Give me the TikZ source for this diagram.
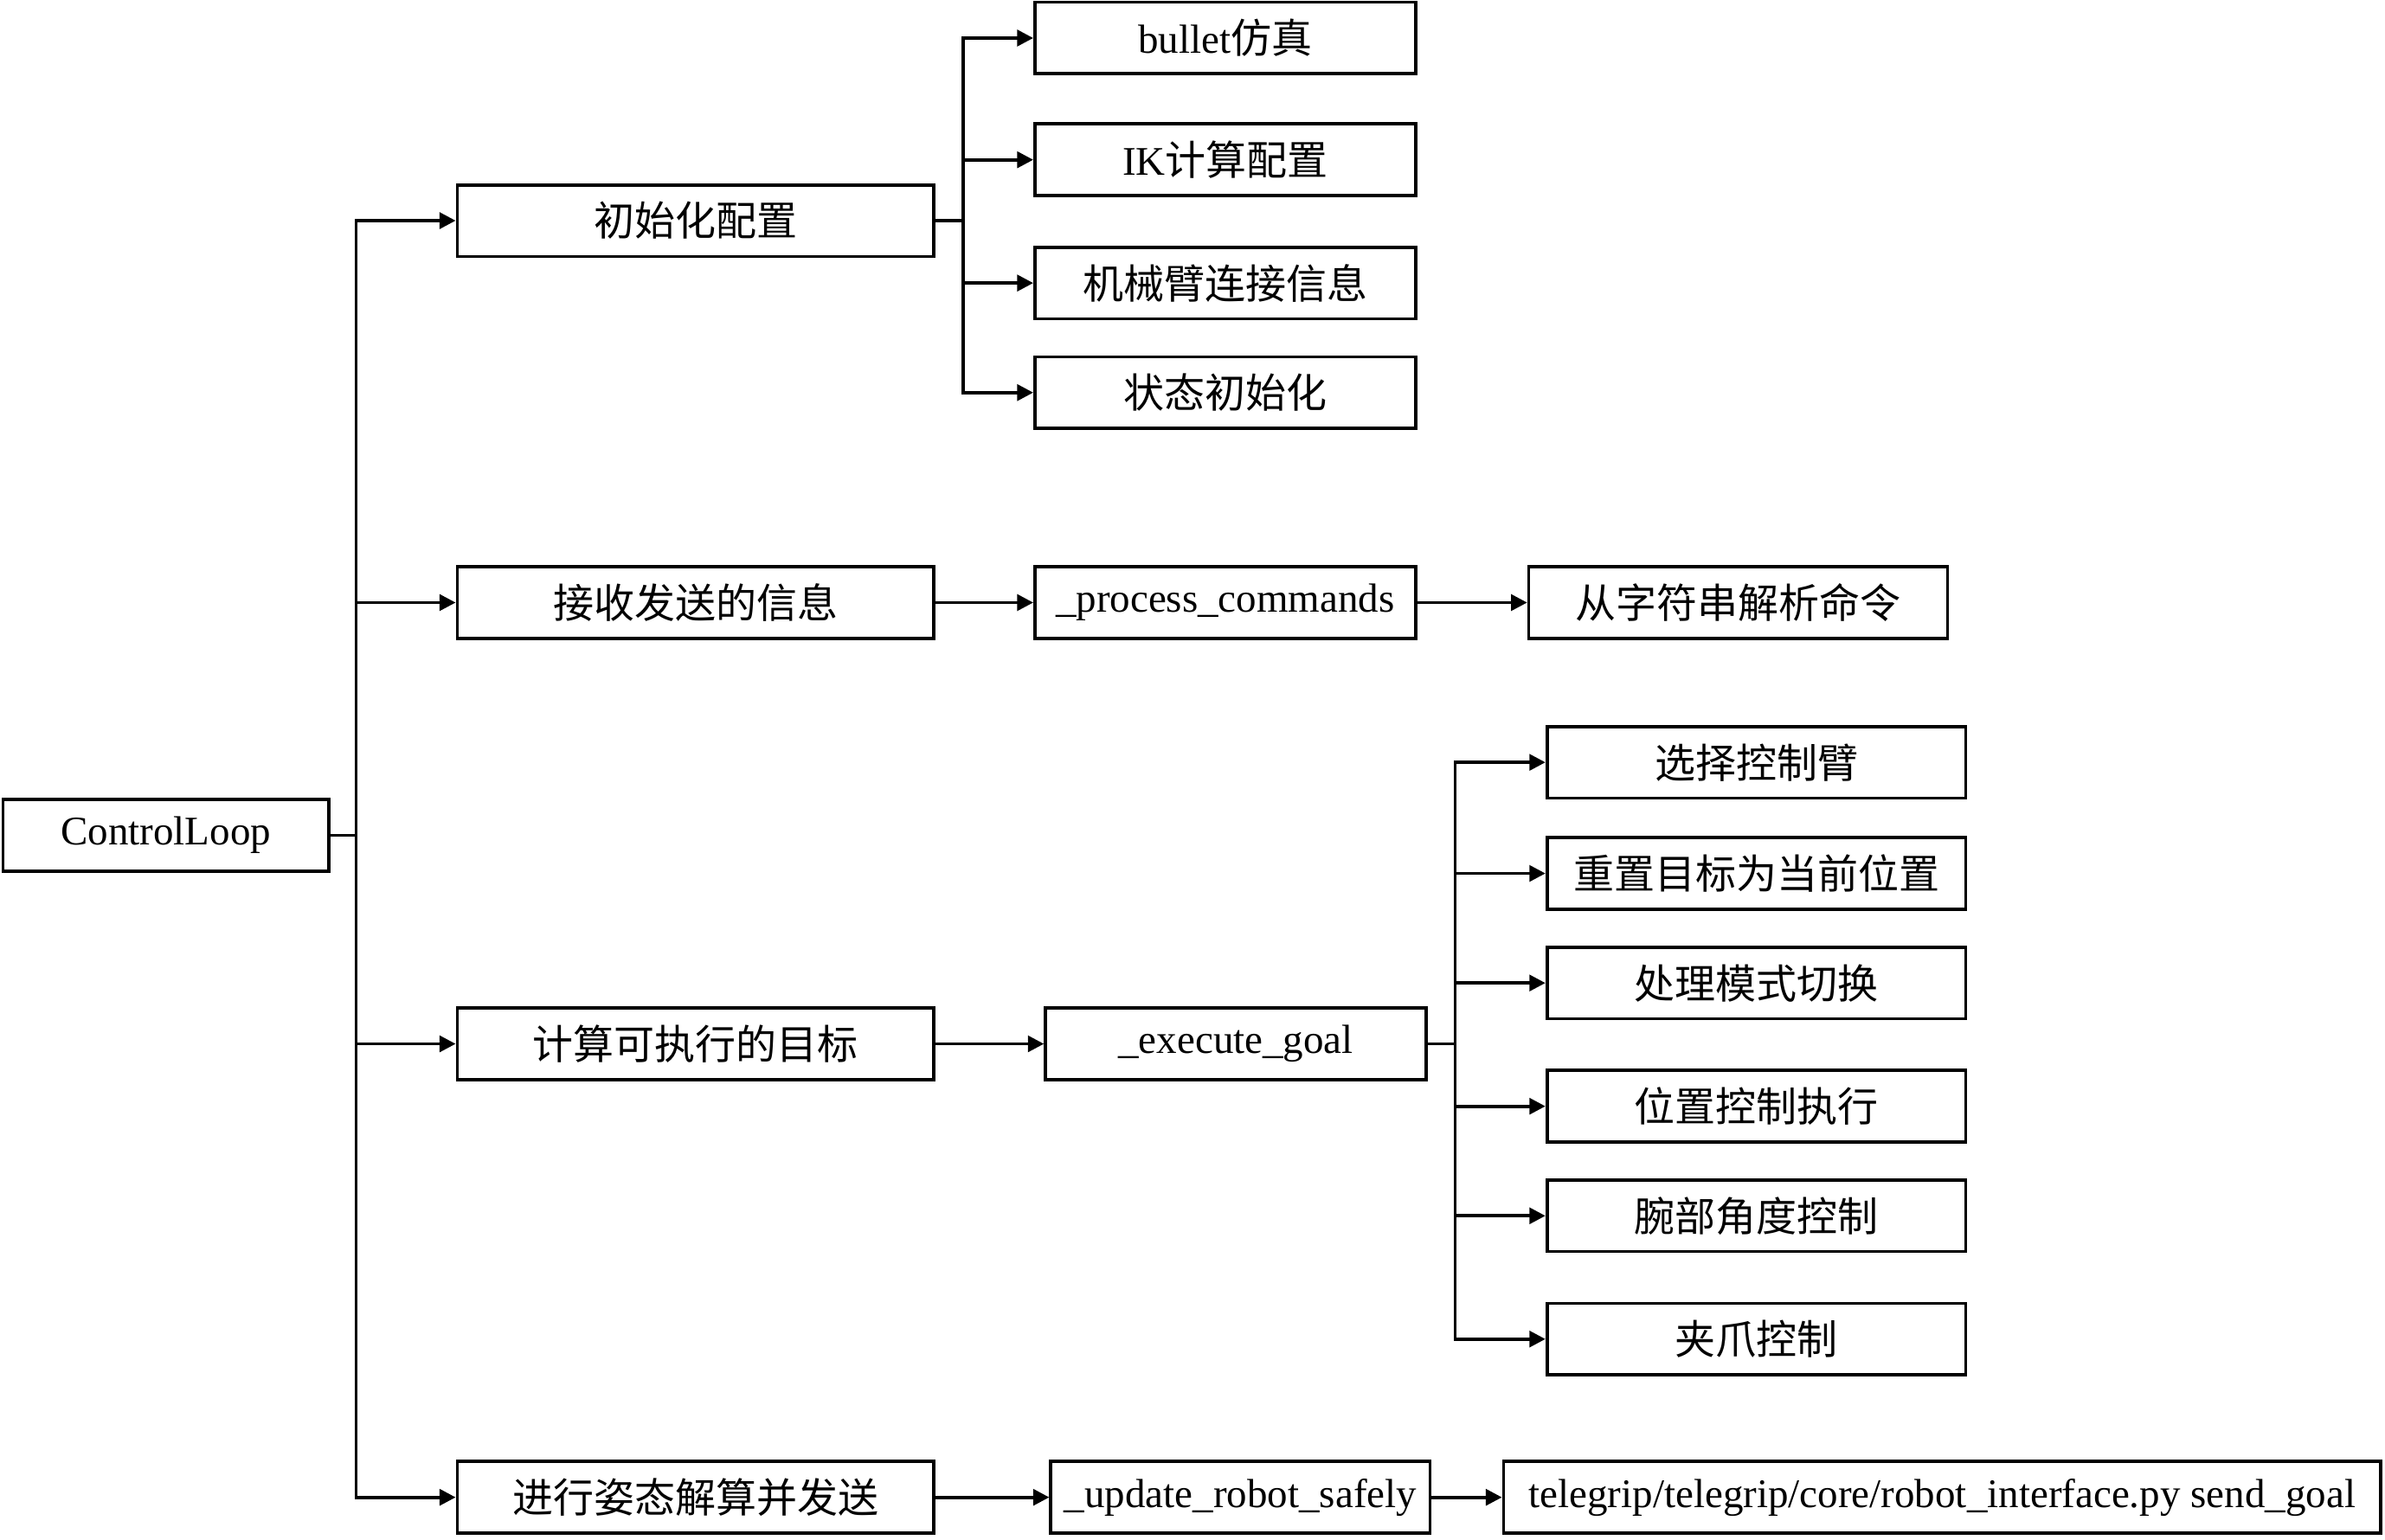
\documentclass[tikz,border=0pt]{standalone}
\usepackage{fontspec}
\setmainfont{Liberation Serif}
\newfontfamily\cjk{Noto Sans CJK SC}
\usetikzlibrary{arrows.meta}
\tikzset{
 box/.style={draw, line width=0.6pt, minimum height=0.47cm, inner sep=0pt, font=\fontsize{7.6pt}{8pt}\selectfont},
 link/.style={line width=0.6pt, -{Triangle[length=3pt,width=3pt]}},
}
\newcommand{\zh}[1]{{\cjk #1}}
\begin{document}
\begin{tikzpicture}[x=0.01cm,y=-0.01cm]
\useasboundingbox (0,0) rectangle (1567,1012);
\node[box, minimum width=2.14cm] (root) at (109,549) {ControlLoop};
\node[box, minimum width=3.13cm] (init) at (457,145) {\zh{初始化配置}};
\node[box, minimum width=3.13cm] (recv) at (457,396) {\zh{接收发送的信息}};
\node[box, minimum width=3.13cm] (calc) at (457,686) {\zh{计算可执行的目标}};
\node[box, minimum width=3.13cm] (send) at (457,984) {\zh{进行姿态解算并发送}};
% init group
\node[box, minimum width=2.5cm] (bullet) at (805,25) {bullet\zh{仿真}};
\node[box, minimum width=2.5cm] (ik) at (805,105) {IK\zh{计算配置}};
\node[box, minimum width=2.5cm] (arm) at (805,186) {\zh{机械臂连接信息}};
\node[box, minimum width=2.5cm] (state) at (805,258) {\zh{状态初始化}};
% recv chain
\node[box, minimum width=2.5cm] (proc) at (805,396) {\_process\_commands};
\node[box, minimum width=2.75cm] (parse) at (1142,396) {\zh{从字符串解析命令}};
% goal group
\node[box, minimum width=2.5cm] (exec) at (812,686) {\_execute\_goal};
\node[box, minimum width=2.75cm] (sel) at (1154,501) {\zh{选择控制臂}};
\node[box, minimum width=2.75cm] (reset) at (1154,574) {\zh{重置目标为当前位置}};
\node[box, minimum width=2.75cm] (mode) at (1154,646) {\zh{处理模式切换}};
\node[box, minimum width=2.75cm] (pos) at (1154,727) {\zh{位置控制执行}};
\node[box, minimum width=2.75cm] (wrist) at (1154,799) {\zh{腕部角度控制}};
\node[box, minimum width=2.75cm] (grip) at (1154,880) {\zh{夹爪控制}};
% send chain
\node[box, minimum width=2.49cm] (upd) at (815,984) {\_update\_robot\_safely};
\node[box, minimum width=5.76cm] (iface) at (1276,984) {telegrip/telegrip/core/robot\_interface.py send\_goal};
% trunks
\coordinate (t1) at (234,549);
\coordinate (t2) at (633,145);
\coordinate (t3) at (956,686);
\foreach \n in {init,recv,calc,send} \draw[link] (root.east) -- (t1) |- (\n.west);
\foreach \n in {bullet,ik,arm,state} \draw[link] (init.east) -- (t2) |- (\n.west);
\foreach \n in {sel,reset,mode,pos,wrist,grip} \draw[link] (exec.east) -- (t3) |- (\n.west);
\draw[link] (recv) -- (proc);
\draw[link] (proc) -- (parse);
\draw[link] (calc) -- (exec);
\draw[link] (send) -- (upd);
\draw[link] (upd) -- (iface);
\end{tikzpicture}
\end{document}
